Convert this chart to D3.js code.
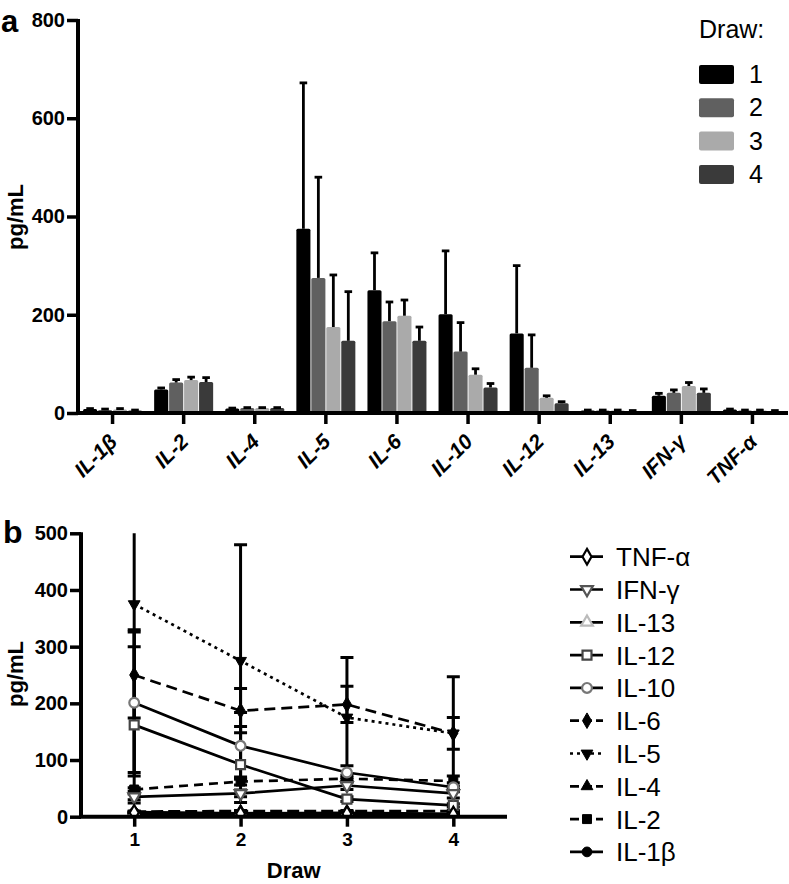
<!DOCTYPE html>
<html><head><meta charset="utf-8">
<script src="https://cdn.jsdelivr.net/npm/d3@7"></script>
<style>
html,body{margin:0;padding:0;background:#fff;}
svg{display:block;font-family:"Liberation Sans",Arial,Helvetica,sans-serif;}
</style></head>
<body>
<svg id="chart" width="789" height="884"></svg>
<script>
// ---------- data ----------
const cytokines = ["IL-1β","IL-2","IL-4","IL-5","IL-6","IL-10","IL-12","IL-13","IFN-γ","TNF-α"];
const draws = ["1","2","3","4"];
const draw1Mean = [8, 48, 9, 375, 250, 201, 162, 5, 35, 7];
const draw2Mean = [6, 62, 10, 275, 187, 125, 92, 5, 41, 5];
const draw3Mean = [7, 67, 10, 175, 198, 78, 31, 5, 55, 5];
const draw4Mean = [5, 63, 10, 147, 147, 52, 20, 4, 41, 4];
const draw1SD = [1, 3, 1, 297, 76, 129, 138, 1, 5, 1];
const draw2SD = [2, 6, 1, 205, 39, 59, 67, 1, 6, 1];
const draw3SD = [2, 6, 1, 106, 32, 12, 4, 1, 7, 1];
const draw4SD = [1, 9, 1, 100, 28, 8, 3, 1, 8, 1];
const yTicksA = [0, 200, 400, 600, 800];
const yTicksB = [0, 100, 200, 300, 400, 500];
const xTicksB = [1, 2, 3, 4];
const legendOrderB = ["TNF-α","IFN-γ","IL-13","IL-12","IL-10","IL-6","IL-5","IL-4","IL-2","IL-1β"];

const means = [draw1Mean, draw2Mean, draw3Mean, draw4Mean];
const sds = [draw1SD, draw2SD, draw3SD, draw4SD];

// ---------- styles ----------
const barColors = ["#000000", "#606060", "#aaaaaa", "#3a3a3a"];
const seriesStyle = {
  "TNF-α": {shape: "diamond", open: true, color: "#000", dash: null},
  "IFN-γ": {shape: "down", open: true, color: "#555", dash: null},
  "IL-13": {shape: "up", open: true, color: "#bbb", dash: null},
  "IL-12": {shape: "square", open: true, color: "#444", dash: null},
  "IL-10": {shape: "circle", open: true, color: "#777", dash: null},
  "IL-6": {shape: "diamond", open: false, color: "#000", dash: "11,6"},
  "IL-5": {shape: "down", open: false, color: "#000", dash: "3,4"},
  "IL-4": {shape: "up", open: false, color: "#000", dash: "12,5"},
  "IL-2": {shape: "square", open: false, color: "#000", dash: "9,6"},
  "IL-1β": {shape: "circle", open: false, color: "#000", dash: null}
};

const svg = d3.select("#chart");
const FONT = '"Liberation Sans",Arial,Helvetica,sans-serif';
const AXW = 4;

// ================= PANEL A =================
const xA = d3.scaleBand().domain(cytokines).range([77, 788]).paddingInner(0).paddingOuter(0);
const yA = d3.scaleLinear().domain([0, 800]).range([413, 20]);
const groupW = 59;
const xSub = d3.scaleBand().domain(draws).range([0, groupW]).paddingInner(0.06);

const gA = svg.append("g");

draws.forEach((d, di) => {
  const g = gA.append("g");
  const cx = c => xA(c) + xA.bandwidth()/2 - groupW/2 + xSub(d);
  g.selectAll("rect").data(cytokines).join("rect")
    .attr("x", c => cx(c))
    .attr("y", (c, i) => yA(means[di][i]))
    .attr("width", xSub.bandwidth())
    .attr("height", (c, i) => yA(0) - yA(means[di][i]))
    .attr("rx", 1.5)
    .attr("fill", barColors[di]);
  const eb = g.selectAll("g.eb").data(cytokines).join("g").attr("class","eb");
  eb.append("line")
    .attr("x1", c => cx(c) + xSub.bandwidth()/2)
    .attr("x2", c => cx(c) + xSub.bandwidth()/2)
    .attr("y1", (c, i) => yA(means[di][i]))
    .attr("y2", (c, i) => yA(means[di][i] + sds[di][i]))
    .attr("stroke", "#000").attr("stroke-width", 2.8);
  eb.append("line")
    .attr("x1", c => cx(c) + xSub.bandwidth()/2 - 3.8)
    .attr("x2", c => cx(c) + xSub.bandwidth()/2 + 3.8)
    .attr("y1", (c, i) => yA(means[di][i] + sds[di][i]))
    .attr("y2", (c, i) => yA(means[di][i] + sds[di][i]))
    .attr("stroke", "#000").attr("stroke-width", 2.8);
});

const yAxisA = gA.append("g").attr("transform", "translate(78,0)")
  .call(d3.axisLeft(yA).tickValues(yTicksA).tickSize(11).tickPadding(2).tickFormat(d3.format("d")));
yAxisA.select(".domain").attr("stroke-width", AXW).attr("d", `M0,${yA(800)-1}V${yA(0)+1}`);
yAxisA.selectAll(".tick line").attr("stroke-width", 3.5);
yAxisA.selectAll("text").attr("font-family", FONT).attr("font-size", 20).attr("font-weight", "bold").attr("fill","#000");

const xAxisA = gA.append("g").attr("transform", `translate(0,${yA(0)})`)
  .call(d3.axisBottom(xA).tickSize(11).tickFormat(""));
xAxisA.select(".domain").attr("stroke-width", AXW).attr("d", "M76,0H788");
xAxisA.selectAll(".tick line").attr("stroke-width", 3.5);
gA.append("g").selectAll("text").data(cytokines).join("text")
  .attr("transform", c => `translate(${xA(c) + xA.bandwidth()/2 + 6},443) rotate(-45)`)
  .attr("text-anchor", "end")
  .attr("font-family", FONT).attr("font-size", 21).attr("font-weight", "bold").attr("font-style", "italic")
  .text(c => c);

gA.append("text").attr("transform", "translate(23,217) rotate(-90)")
  .attr("text-anchor", "middle").attr("font-family", FONT).attr("font-size", 22).attr("font-weight", "bold")
  .text("pg/mL");
svg.append("text").attr("x", 1).attr("y", 32).attr("font-family", FONT).attr("font-size", 31).attr("font-weight", "bold").text("a");

const legA = gA.append("g");
legA.append("text").attr("x", 699).attr("y", 38).attr("font-family", FONT).attr("font-size", 25).text("Draw:");
draws.forEach((d, i) => {
  legA.append("rect").attr("x", 699).attr("y", 65 + i*33.3).attr("width", 35).attr("height", 19)
    .attr("rx", 2).attr("fill", barColors[i]);
  legA.append("text").attr("x", 749).attr("y", 83 + i*33.3).attr("font-family", FONT).attr("font-size", 25).text(d);
});

// ================= PANEL B =================
const xB = d3.scaleLinear().domain([0.5, 4.5]).range([81, 506.5]);
const yB = d3.scaleLinear().domain([0, 500]).range([816.7, 533.3]);
const gB = svg.append("g");

svg.append("defs").append("clipPath").attr("id", "clipB")
  .append("rect").attr("x", 70).attr("y", yB(500)).attr("width", 450).attr("height", yB(0) - yB(500));

function symbolPath(shape, size) {
  let type = d3.symbolCircle;
  if (shape === "diamond") type = d3.symbolDiamond;
  else if (shape === "up" || shape === "down") type = d3.symbolTriangle;
  else if (shape === "square") type = d3.symbolSquare;
  return d3.symbol().type(type).size(size)();
}
function symSize(shape) {
  return {diamond: 70, up: 60, down: 60, square: 80, circle: 75}[shape];
}

const plotB = gB.append("g").attr("clip-path", "url(#clipB)");
const line = d3.line().x((v, i) => xB(i + 1)).y(v => yB(v));

const drawOrder = legendOrderB.slice().reverse();
drawOrder.forEach(name => {
  const ci = cytokines.indexOf(name);
  const vals = means.map(m => m[ci]);
  const errs = sds.map(s => s[ci]);
  const st = seriesStyle[name];
  const g = plotB.append("g");
  vals.forEach((v, i) => {
    const x = xB(i + 1);
    g.append("line").attr("x1", x).attr("x2", x).attr("y1", yB(v - errs[i])).attr("y2", yB(v + errs[i]))
      .attr("stroke", "#000").attr("stroke-width", 3);
    [v - errs[i], v + errs[i]].forEach(e => {
      g.append("line").attr("x1", x - 6.5).attr("x2", x + 6.5).attr("y1", yB(e)).attr("y2", yB(e))
        .attr("stroke", "#000").attr("stroke-width", 3);
    });
  });
  g.append("path").datum(vals).attr("d", line).attr("fill", "none").attr("stroke", "#000")
    .attr("stroke-width", 2.7).attr("stroke-dasharray", st.dash);
});
drawOrder.forEach(name => {
  const ci = cytokines.indexOf(name);
  const vals = means.map(m => m[ci]);
  const st = seriesStyle[name];
  plotB.append("g").selectAll("path").data(vals).join("path")
    .attr("d", symbolPath(st.shape, symSize(st.shape)))
    .attr("transform", (v, i) => `translate(${xB(i + 1)},${yB(v)})${st.shape === "down" ? " rotate(180)" : ""}`)
    .attr("fill", st.open ? "#fff" : st.color)
    .attr("stroke", st.color).attr("stroke-width", st.open ? 2.2 : 1);
});

const yAxisB = gB.append("g").attr("transform", "translate(81,0)")
  .call(d3.axisLeft(yB).tickValues(yTicksB).tickSize(11).tickPadding(2).tickFormat(d3.format("d")));
yAxisB.select(".domain").attr("stroke-width", AXW).attr("d", `M0,${yB(500)-1}V${yB(0)+1}`);
yAxisB.selectAll(".tick line").attr("stroke-width", 3.5);
yAxisB.selectAll("text").attr("font-family", FONT).attr("font-size", 20).attr("font-weight", "bold").attr("fill","#000");

const xAxisB = gB.append("g").attr("transform", `translate(0,${yB(0)})`)
  .call(d3.axisBottom(xB).tickValues(xTicksB).tickSize(10).tickPadding(6).tickFormat(d3.format("d")));
xAxisB.select(".domain").attr("stroke-width", AXW).attr("d", "M79,0H507");
xAxisB.selectAll(".tick line").attr("stroke-width", 3.5);
xAxisB.selectAll("text").attr("font-family", FONT).attr("font-size", 19).attr("font-weight", "bold").attr("fill","#000");

gB.append("text").attr("x", xB(2.5)).attr("y", 878).attr("text-anchor", "middle")
  .attr("font-family", FONT).attr("font-size", 22).attr("font-weight", "bold").text("Draw");
gB.append("text").attr("transform", "translate(23,674) rotate(-90)")
  .attr("text-anchor", "middle").attr("font-family", FONT).attr("font-size", 22).attr("font-weight", "bold")
  .text("pg/mL");
svg.append("text").attr("x", 3).attr("y", 543).attr("font-family", FONT).attr("font-size", 32).attr("font-weight", "bold").text("b");

const legB = gB.append("g");
legendOrderB.forEach((name, i) => {
  const y = 556.7 + i * 32.8;
  const st = seriesStyle[name];
  legB.append("line").attr("x1", 570).attr("x2", 603).attr("y1", y).attr("y2", y)
    .attr("stroke", "#000").attr("stroke-width", 2.7).attr("stroke-dasharray", st.dash ? (st.dash === "3,4" ? "3,4" : "9,4") : null);
  legB.append("path").attr("d", symbolPath(st.shape, symSize(st.shape)))
    .attr("transform", `translate(587,${y})${st.shape === "down" ? " rotate(180)" : ""}`)
    .attr("fill", st.open ? "#fff" : st.color).attr("stroke", st.color).attr("stroke-width", st.open ? 2.2 : 1);
  legB.append("text").attr("x", 616).attr("y", y + 9.5).attr("font-family", FONT).attr("font-size", 26).text(name);
});
</script>
</body></html>
